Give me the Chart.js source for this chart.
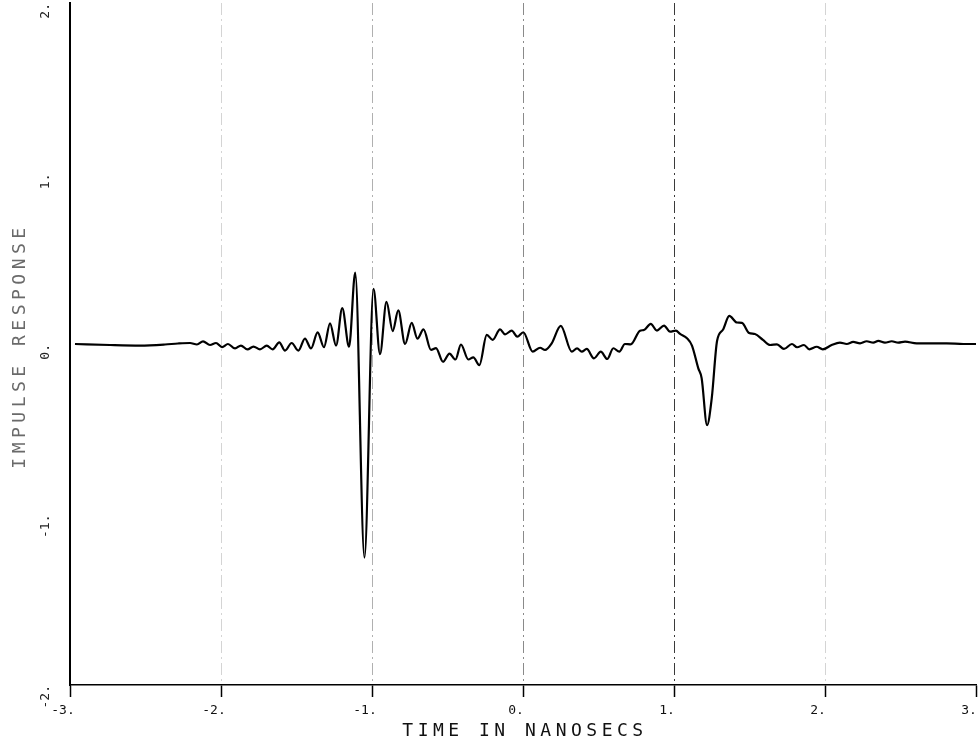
<!DOCTYPE html>
<html>
<head>
<meta charset="utf-8">
<title>Impulse response</title>
<script src="https://cdn.jsdelivr.net/npm/chart.js@4/dist/chart.umd.min.js"></script>
<style>
    html, body { margin: 0; padding: 0; background: #fff; }
    #wrap { width: 980px; height: 750px; }
</style>
</head>
<body>
<div id="wrap"><canvas id="responseChart" width="980" height="750"></canvas></div>
<script>
// ============================================
// DATA
// ============================================

const xTicks = [-3, -2, -1, 0, 1, 2, 3];
const yTicks = [-2, -1, 0, 1, 2];

// time in nanoseconds
const times = [
    -2.967, -2.735, -2.536, -2.371, -2.285, -2.205, -2.159, -2.119, -2.073, -2.033,
    -1.993, -1.954, -1.907, -1.868, -1.825, -1.785, -1.742, -1.697, -1.658, -1.614,
    -1.576, -1.532, -1.488, -1.444, -1.404, -1.360, -1.318, -1.278, -1.238, -1.197,
    -1.152, -1.111, -1.050, -0.990, -0.947, -0.904, -0.863, -0.826, -0.781, -0.737,
    -0.699, -0.659, -0.609, -0.576, -0.530, -0.487, -0.447, -0.411, -0.362, -0.329,
    -0.289, -0.240, -0.201, -0.152, -0.119, -0.075, -0.038, 0.002, 0.064, 0.113,
    0.146, 0.190, 0.250, 0.323, 0.358, 0.389, 0.422, 0.470, 0.515, 0.558,
    0.598, 0.638, 0.675, 0.713, 0.775, 0.801, 0.846, 0.887, 0.934, 0.974,
    1.013, 1.040, 1.086, 1.119, 1.161, 1.183, 1.219, 1.250, 1.285, 1.325,
    1.366, 1.417, 1.450, 1.497, 1.536, 1.589, 1.636, 1.682, 1.728, 1.781,
    1.815, 1.861, 1.896, 1.945, 1.985, 2.044, 2.099, 2.144, 2.187, 2.232,
    2.276, 2.320, 2.353, 2.397, 2.442, 2.485, 2.530, 2.607, 2.695, 2.806,
    2.916, 3.000
];

// impulse response
const response = [
    0.000, -0.006, -0.009, -0.003, 0.003, 0.006, -0.003, 0.015, -0.006, 0.006,
    -0.018, 0.000, -0.026, -0.009, -0.032, -0.015, -0.031, -0.010, -0.031, 0.010,
    -0.039, 0.006, -0.039, 0.032, -0.026, 0.068, -0.019, 0.121, -0.009, 0.210,
    -0.016, 0.419, -1.253, 0.324, -0.059, 0.247, 0.076, 0.197, 0.000, 0.124,
    0.032, 0.086, -0.035, -0.024, -0.104, -0.056, -0.091, -0.003, -0.091, -0.078,
    -0.124, 0.053, 0.024, 0.086, 0.057, 0.078, 0.043, 0.069, -0.045, -0.022,
    -0.035, 0.004, 0.106, -0.045, -0.026, -0.045, -0.029, -0.084, -0.045, -0.088,
    -0.025, -0.045, 0.000, -0.002, 0.078, 0.082, 0.118, 0.079, 0.108, 0.072,
    0.079, 0.059, 0.034, -0.009, -0.143, -0.200, -0.476, -0.318, 0.018, 0.085,
    0.165, 0.126, 0.124, 0.065, 0.059, 0.024, -0.006, -0.002, -0.029, 0.000,
    -0.019, -0.006, -0.031, -0.016, -0.031, -0.006, 0.008, 0.000, 0.012, 0.004,
    0.016, 0.008, 0.018, 0.008, 0.016, 0.008, 0.014, 0.004, 0.004, 0.004,
    0.000, 0.000
];

const xTitle = 'TIME IN NANOSECS';
const yTitle = 'IMPULSE RESPONSE';

// ============================================
// CHART
// ============================================

const MONO = '"DejaVu Sans Mono", "Liberation Mono", monospace';

// darker dash-dot line at 1 ns, faint ones elsewhere
function gridColor(ctx) {
    const v = ctx.tick ? ctx.tick.value : null;
    if (v === 1) return '#3a3a3a';
    if (v === 0) return '#8a8a8a';
    if (v === -1) return '#b0b0b0';
    if (v === -2 || v === 2) return '#d4d4d4';
    return 'rgba(0,0,0,0)';
}

// no extra room for the end labels, the plot runs edge to edge
function noScalePadding(scale) {
    scale.paddingTop = 0;
    scale.paddingBottom = 0;
    scale.paddingLeft = 0;
    scale.paddingRight = 0;
}

const axisTitles = {
    id: 'axisTitles',
    afterDraw(chart) {
        const { ctx, chartArea } = chart;
        ctx.save();
        ctx.font = '18px ' + MONO;
        ctx.letterSpacing = '4.5px';
        ctx.textAlign = 'center';
        ctx.textBaseline = 'middle';
        ctx.fillStyle = '#111';
        ctx.fillText(xTitle, (chartArea.left + chartArea.right) / 2 + 2, 731);

        ctx.translate(20, (chartArea.top + chartArea.bottom) / 2 + 2);
        ctx.rotate(-Math.PI / 2);
        ctx.fillStyle = '#6a6a6a';
        ctx.fillText(yTitle, 0, 0);
        ctx.restore();
    }
};

const ctx = document.getElementById('responseChart').getContext('2d');
new Chart(ctx, {
    type: 'line',
    data: {
        datasets: [{
            data: times.map((t, i) => ({ x: t, y: response[i] })),
            borderColor: '#000',
            borderWidth: 2.2,
            pointRadius: 0,
            fill: false,
            cubicInterpolationMode: 'monotone'
        }]
    },
    options: {
        responsive: false,
        animation: false,
        events: [],
        layout: { padding: { top: 3, right: 4, left: 0, bottom: 0 } },
        plugins: {
            legend: { display: false },
            tooltip: { enabled: false }
        },
        scales: {
            x: {
                type: 'linear',
                min: -3,
                max: 3,
                afterBuildTicks: scale => { scale.ticks = xTicks.map(v => ({ value: v })); },
                afterFit: scale => { scale.height = 65; noScalePadding(scale); },
                ticks: {
                    callback: v => v + '.',
                    color: '#111',
                    font: { family: MONO, size: 13 },
                    labelOffset: -7,
                    padding: 6,
                    maxRotation: 0,
                    autoSkip: false
                },
                grid: {
                    color: gridColor,
                    lineWidth: 1,
                    drawTicks: true,
                    tickLength: 12,
                    tickColor: '#000',
                    tickWidth: 1.5
                },
                border: { display: true, color: '#000', width: 1.5, dash: [12, 4, 2, 4] }
            },
            y: {
                type: 'linear',
                min: -2,
                max: 2,
                afterBuildTicks: scale => { scale.ticks = yTicks.map(v => ({ value: v })); },
                afterFit: scale => { scale.width = 70; noScalePadding(scale); },
                ticks: {
                    callback: v => v + '.',
                    color: '#222',
                    font: { family: MONO, size: 13 },
                    minRotation: 90,
                    maxRotation: 90,
                    padding: 24
                },
                grid: { drawOnChartArea: false, drawTicks: false },
                border: { display: true, color: '#000', width: 2 }
            }
        }
    },
    plugins: [axisTitles]
});
</script>
</body>
</html>
